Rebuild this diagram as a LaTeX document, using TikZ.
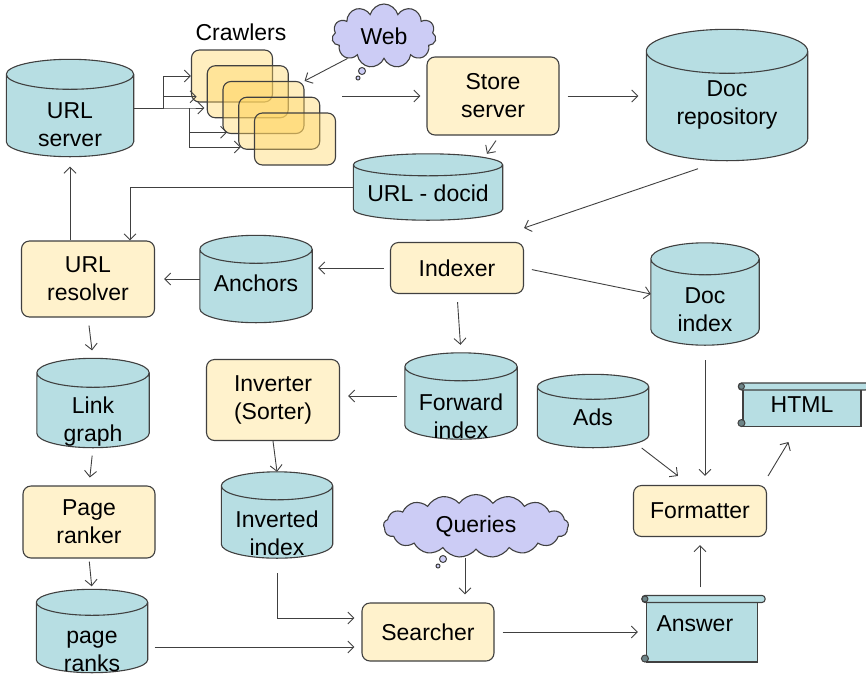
\documentclass[tikz,border=0pt]{standalone}
\usepackage{fontspec}
\setmainfont{Liberation Sans}
\usetikzlibrary{shapes.symbols,arrows.meta,calc}

\definecolor{linec}{RGB}{64,64,64}
\definecolor{boxc}{RGB}{255,242,204}
\definecolor{dbc}{RGB}{183,222,227}
\definecolor{cloudc}{RGB}{204,204,245}
\definecolor{crawlc}{RGB}{255,212,96}
\newcommand\lab{\fontsize{23}{28}\selectfont}
\pgfdeclarelayer{bg}
\pgfsetlayers{bg,main}

\tikzset{
  box/.style={draw=linec, line width=1.1pt, fill=boxc, rounded corners=8pt, align=center, font=\lab},
  crawl/.style={draw=linec, line width=1.1pt, fill=crawlc, fill opacity=0.4, rounded corners=8pt,
    minimum width=81pt, minimum height=52pt},
  db/.style={rectangle, inner sep=0pt},
  dbline/.style={draw=linec, line width=1.1pt, fill=dbc},
  dbtext/.style={align=center, font=\lab},
  cloudy/.style={cloud, cloud ignores aspect, draw=linec, line width=1.1pt, fill=cloudc, font=\lab},
  scrollbody/.style={draw=linec, line width=1.1pt, fill=dbc, font=\lab},
  conn/.style={draw=linec, line width=0.9pt, -{Straight Barb[length=6pt,width=12pt]}},
  gap/.style={shorten <=#1, shorten >=#1}, gap/.default=8pt
}

\begin{document}
\begin{tikzpicture}[x=1pt, y=-1pt]
\useasboundingbox (0,0) rectangle (866,675);

% crawling
\node[db, minimum width=127pt, minimum height=97pt,
  label={[dbtext, name=urlsrv-t, yshift=-17pt]center:URL\\server}] (urlsrv) at (70,108) {};
\foreach \i in {1,...,5}
  \node[crawl] (c\i) at ({232+15.75*(\i-1)}, {76+15.75*(\i-1)}) {};
\node[font=\lab] (crawlers) at (241,32) {Crawlers};
\node[cloudy, cloud puffs=11, minimum width=104pt, minimum height=64pt] (web) at (384,36) {Web};
\draw[linec, line width=1pt, fill=cloudc] (362,71) circle (3.5pt) (358,78) circle (2pt);
\node[box, minimum width=132pt, minimum height=78pt] (store) at (493,96) {Store\\server};
\node[db, minimum width=161pt, minimum height=131pt,
  label={[dbtext, name=docrepo-t, yshift=-10pt]center:Doc\\repository}] (docrepo) at (727,95) {};
\node[db, minimum width=149pt, minimum height=66pt,
  label={[dbtext, name=urldoc-t, yshift=-6pt]center:URL - docid}] (urldoc) at (428,187) {};

% indexing
\node[box, minimum width=133pt, minimum height=76pt] (urlres) at (88,279) {URL\\resolver};
\node[db, minimum width=112pt, minimum height=87pt,
  label={[dbtext, name=anchors-t, yshift=-4pt]center:Anchors}] (anchors) at (256,279) {};
\node[box, minimum width=133pt, minimum height=51pt] (indexer) at (457,268) {Indexer};
\node[db, minimum width=108pt, minimum height=102pt,
  label={[dbtext, name=docidx-t, yshift=-16pt]center:Doc\\index}] (docidx) at (705,294) {};
\node[db, minimum width=112pt, minimum height=86pt,
  label={[dbtext, name=fwd-t, yshift=-20pt]center:Forward\\index}] (fwd) at (461,396) {};
\node[box, minimum width=133pt, minimum height=81pt] (inv) at (273,400) {Inverter\\(Sorter)};
\node[db, minimum width=112pt, minimum height=89pt,
  label={[dbtext, name=link-t, yshift=-19pt]center:Link\\graph}] (link) at (93,403) {};
\node[db, minimum width=111pt, minimum height=73pt,
  label={[dbtext, name=ads-t, yshift=-6pt]center:Ads}] (ads) at (593,411) {};

% searching
\node[db, minimum width=111pt, minimum height=86pt,
  label={[dbtext, name=invidx-t, yshift=-18pt]center:Inverted\\index}] (invidx) at (277,515) {};
\node[box, minimum width=132pt, minimum height=72pt] (ranker) at (89,522) {Page\\ranker};
\node[box, minimum width=133pt, minimum height=51pt] (fmt) at (700,511) {Formatter};
\node[cloudy, cloud puffs=17, cloud puff arc=110, minimum width=185pt, minimum height=63pt]
  (queries) at (476,526) {Queries};
\draw[linec, line width=1pt, fill=cloudc] (443,559) circle (3.5pt) (438,566) circle (2pt);
\node[box, minimum width=132pt, minimum height=58pt] (searcher) at (428,632) {Searcher};
\node[db, minimum width=111pt, minimum height=83pt,
  label={[dbtext, name=ranks-t, yshift=-20pt]center:page\\ranks}] (ranks) at (92,631) {};
\node[scrollbody, minimum width=118pt, minimum height=43pt] (html) at (802,405) {HTML};
\node[scrollbody, minimum width=111pt, minimum height=66pt, text width=91pt, inner xsep=10pt,
  align=left, text depth=10pt] (ans) at (702,629) {Answer};
\foreach \s in {html,ans} {
  \draw[linec, line width=1.1pt, fill=dbc, rounded corners=3pt]
    ([shift={(-4,0)}]\s.north west) rectangle ([shift={(7,7)}]\s.north east);
  \draw[linec, line width=1pt, fill=dbc!60!black] ([shift={(-1,3.5)}]\s.north west) circle (3pt);
  \draw[linec, line width=1pt, fill=dbc!60!black] ([shift={(-1,-4)}]\s.south west) circle (3.5pt);
}

% cylinders behind their texts
\begin{pgfonlayer}{bg}
\foreach \db/\r in {urlsrv/15, docrepo/22, urldoc/11, anchors/14, docidx/16, fwd/14,
    link/14.5, ads/12.5, invidx/14, ranks/13}
  \draw[dbline] let \p1=(\db.north west), \p2=(\db.south east), \n1={(\x2-\x1)/2} in
    ({\x1},{\y1-\r*1pt}) -- ({\x1},{\y2+\r*1pt})
    arc[start angle=180, end angle=360, x radius={\n1*1pt}, y radius={\r*1pt}]
    -- ({\x2},{\y1-\r*1pt})
    arc[start angle=0, end angle=180, x radius={\n1*1pt}, y radius={\r*1pt}] -- cycle
    ({\x1},{\y1-\r*1pt}) arc[start angle=180, end angle=360, x radius={\n1*1pt}, y radius={\r*1pt}];
\end{pgfonlayer}

% connectors
\coordinate (bus1) at (163,108);
\coordinate (bus2) at (189,108);
\draw[conn] (urlsrv.east) -- (bus1) |- (c1.west);
\draw[conn] (bus1) |- ([shift={(-10,5)}]c2.west);
\draw[conn] (bus1) -- (bus2) -- ([shift={(-18,0)}]c3.west |- bus2);
\draw[conn] (bus2) |- ([shift={(-11,9)}]c4.west);
\draw[conn] (bus2) |- ([shift={(-13,8)}]c5.west);
\draw[conn] (web.south west) -- (c3.north east);
\draw[conn, gap=6pt] (c5.east |- store.west) -- (store.west);
\draw[conn, gap] (store.east) -- (store.east -| docrepo.west);
\draw[conn] ([shift={(3,5)}]store.south) -- ([shift={(59,0)}]urldoc.north);
\draw[conn] (urldoc.west) -| ([shift={(42,0)}]urlres.north);
\draw[conn, shorten >=10pt] (urlsrv.south |- urlres.north) -- (urlsrv.south);
\draw[conn] ([shift={(-29,8)}]docrepo.south) -- ([shift={(0,-14)}]indexer.north east);
\draw[conn, gap=6pt] (indexer.west) -- (indexer.west -| anchors.east);
\draw[conn, shorten >=9pt] (anchors.west) -- (anchors.west -| urlres.east);
\draw[conn, gap] (indexer.south) -- (fwd.north);
\draw[conn, shorten <=8pt] (indexer.east) -- (docidx.west);
\draw[conn, gap] (fwd.west) -- (fwd.west -| inv.east);
\draw[conn, gap] (urlres.south) -- (link.north);
\draw[conn] (inv.south) -- (invidx.north);
\draw[conn, gap] (link.south) -- (ranker.north);
\draw[conn, gap=3pt] (ranker.south) -- (ranks.north);
\coordinate (sin1) at ([shift={(-7,-14)}]searcher.west);
\coordinate (sin2) at ([shift={(-7,15)}]searcher.west);
\draw[conn, shorten <=7pt] (ranks.east |- sin2) -- (sin2);
\draw[conn, shorten <=15pt] (invidx.south) |- (sin1);
\draw[conn, gap] ([shift={(-11,0)}]queries.south) -- ([shift={(-11,0)}]queries.south |- searcher.north);
\draw[conn, gap] (searcher.east) -- (searcher.east -| ans.west);
\draw[conn, gap] (fmt.south |- ans.north) -- (fmt.south);
\draw[conn, shorten <=15pt, shorten >=9pt] (docidx.south) -- (docidx.south |- fmt.north);
\draw[conn] ([shift={(-7,37)}]ads.east) -- ([shift={(-22,-9)}]fmt.north);
\draw[conn] ([shift={(1,-9)}]fmt.north east) -- ([shift={(46,15)}]html.south west);
\end{tikzpicture}
\end{document}
